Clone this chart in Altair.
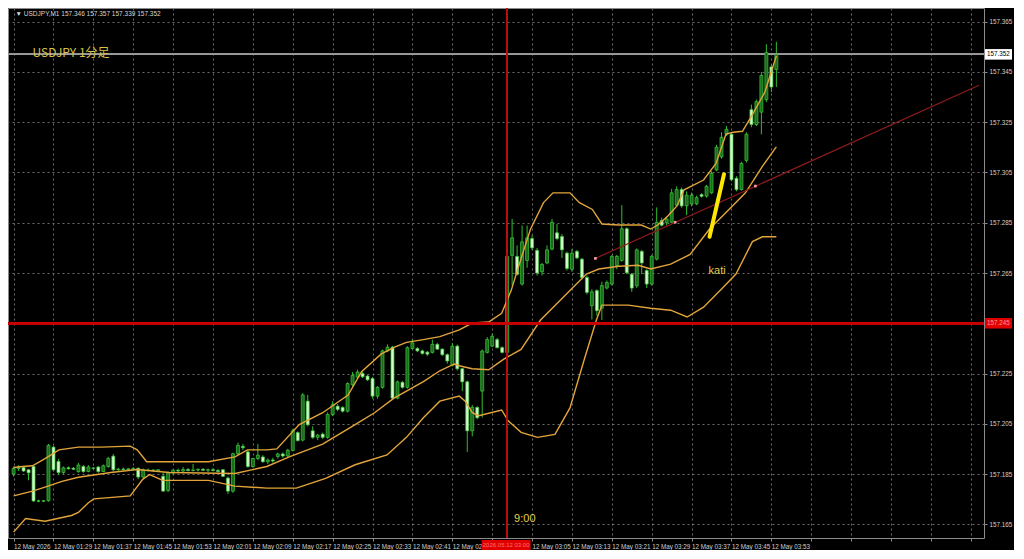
import altair as alt
import pandas as pd

# ---------------- data (1-minute bars, minutes after 00:00 server time) ----------------
minutes = list(range(81, 235))  # 01:21 .. 03:54

opens = [157.1850, 157.1872, 157.1876, 157.1867, 157.1880, 157.1743, 157.1742, 157.1744, 157.1957, 157.1900,
         157.1856, 157.1875, 157.1873, 157.1860, 157.1880, 157.1860, 157.1874, 157.1878, 157.1860, 157.1880,
         157.1921, 157.1867, 157.1870, 157.1868, 157.1871, 157.1873, 157.1838, 157.1866, 157.1864, 157.1862,
         157.1841, 157.1785, 157.1854, 157.1865, 157.1862, 157.1868, 157.1864, 157.1866, 157.1869, 157.1865,
         157.1867, 157.1864, 157.1867, 157.1834, 157.1782, 157.1931, 157.1960, 157.1938, 157.1880, 157.1912,
         157.1918, 157.1899, 157.1906, 157.1920, 157.1930, 157.1922, 157.1944, 157.2015, 157.1985, 157.2140,
         157.2022, 157.1996, 157.2009, 157.1996, 157.2087, 157.2120, 157.2115, 157.2100, 157.2205, 157.2235,
         157.2250, 157.2240, 157.2230, 157.2160, 157.2195, 157.2340, 157.2355, 157.2152, 157.2215, 157.2195,
         157.2350, 157.2350, 157.2340, 157.2335, 157.2334, 157.2366, 157.2347, 157.2325, 157.2282, 157.2359,
         157.2269, 157.2217, 157.2022, 157.2115, 157.2180, 157.2334, 157.2359, 157.2385, 157.2353, 157.2334,
         157.2720, 157.2716, 157.2606, 157.2700, 157.2787, 157.2740, 157.2655, 157.2690, 157.2745, 157.2810,
         157.2795, 157.2729, 157.2665, 157.2736, 157.2705, 157.2632, 157.2520, 157.2580, 157.2510, 157.2590,
         157.2606, 157.2680, 157.2700, 157.2826, 157.2645, 157.2599, 157.2736, 157.2660, 157.2606, 157.2705,
         157.2859, 157.2850, 157.2852, 157.2920, 157.2982, 157.2917, 157.2925, 157.2925, 157.2962, 157.2956,
         157.2969, 157.3060, 157.3112, 157.3202, 157.3202, 157.3027, 157.2982, 157.3098, 157.3300, 157.3241,
         157.3290, 157.3340, 157.3470, 157.3460]

highs = [157.1880, 157.1885, 157.1880, 157.1870, 157.1885, 157.1748, 157.1746, 157.1970, 157.1962, 157.1910,
         157.1880, 157.1880, 157.1878, 157.1895, 157.1886, 157.1885, 157.1878, 157.1882, 157.1888, 157.1918,
         157.1930, 157.1875, 157.1876, 157.1874, 157.1878, 157.1876, 157.1872, 157.1872, 157.1870, 157.1870,
         157.1855, 157.1860, 157.1870, 157.1872, 157.1878, 157.1874, 157.1890, 157.1872, 157.1874, 157.1872,
         157.1874, 157.1870, 157.1870, 157.1840, 157.1935, 157.1975, 157.1970, 157.1945, 157.1915, 157.1970,
         157.1925, 157.1912, 157.1915, 157.1935, 157.1936, 157.1950, 157.2030, 157.2020, 157.2172, 157.2165,
         157.2040, 157.2010, 157.2015, 157.2095, 157.2140, 157.2128, 157.2120, 157.2215, 157.2256, 157.2265,
         157.2258, 157.2245, 157.2236, 157.2200, 157.2345, 157.2366, 157.2360, 157.2222, 157.2220, 157.2358,
         157.2385, 157.2355, 157.2345, 157.2340, 157.2385, 157.2372, 157.2350, 157.2330, 157.2372, 157.2365,
         157.2272, 157.2222, 157.2125, 157.2120, 157.2345, 157.2395, 157.2410, 157.2392, 157.2358, 157.2725,
         157.2865, 157.2760, 157.2839, 157.2839, 157.2800, 157.2750, 157.2690, 157.2760, 157.2865, 157.2845,
         157.2805, 157.2735, 157.2745, 157.2742, 157.2710, 157.2640, 157.2585, 157.2585, 157.2615, 157.2620,
         157.2722, 157.2722, 157.2920, 157.2832, 157.2650, 157.2748, 157.2742, 157.2665, 157.2722, 157.2911,
         157.2870, 157.2875, 157.2985, 157.2995, 157.2990, 157.2975, 157.2970, 157.2958, 157.2968, 157.3000,
         157.3055, 157.3160, 157.3210, 157.3235, 157.3210, 157.3035, 157.3092, 157.3210, 157.3320, 157.3340,
         157.3450, 157.3560, 157.3480, 157.3570]

lows = [157.1840, 157.1862, 157.1858, 157.1825, 157.1739, 157.1738, 157.1738, 157.1740, 157.1860, 157.1847,
        157.1850, 157.1868, 157.1866, 157.1855, 157.1855, 157.1857, 157.1868, 157.1855, 157.1858, 157.1875,
        157.1860, 157.1862, 157.1864, 157.1862, 157.1866, 157.1830, 157.1834, 157.1860, 157.1858, 157.1858,
        157.1780, 157.1778, 157.1850, 157.1858, 157.1858, 157.1860, 157.1860, 157.1860, 157.1862, 157.1858,
        157.1860, 157.1856, 157.1838, 157.1770, 157.1775, 157.1925, 157.1945, 157.1875, 157.1875, 157.1905,
        157.1895, 157.1890, 157.1895, 157.1912, 157.1915, 157.1918, 157.1940, 157.1980, 157.1980, 157.2040,
        157.1990, 157.1985, 157.1990, 157.1990, 157.2080, 157.2100, 157.2095, 157.2095, 157.2200, 157.2230,
        157.2232, 157.2220, 157.2150, 157.2150, 157.2190, 157.2335, 157.2145, 157.2148, 157.2190, 157.2190,
        157.2345, 157.2335, 157.2325, 157.2320, 157.2330, 157.2345, 157.2320, 157.2290, 157.2278, 157.2262,
        157.2180, 157.1938, 157.2000, 157.2068, 157.2075, 157.2330, 157.2355, 157.2350, 157.2330, 157.2325,
        157.2600, 157.2640, 157.2600, 157.2671, 157.2740, 157.2640, 157.2640, 157.2685, 157.2740, 157.2780,
        157.2710, 157.2660, 157.2655, 157.2705, 157.2625, 157.2565, 157.2465, 157.2480, 157.2463, 157.2585,
        157.2600, 157.2665, 157.2695, 157.2645, 157.2575, 157.2590, 157.2645, 157.2590, 157.2600, 157.2700,
        157.2835, 157.2840, 157.2848, 157.2915, 157.2910, 157.2880, 157.2915, 157.2920, 157.2950, 157.2950,
        157.2965, 157.3055, 157.3105, 157.3195, 157.3015, 157.2975, 157.2978, 157.3090, 157.3230, 157.3235,
        157.3202, 157.3330, 157.3370, 157.3390]

closes = [157.1872, 157.1878, 157.1862, 157.1855, 157.1743, 157.1742, 157.1744, 157.1964, 157.1867, 157.1856,
          157.1875, 157.1871, 157.1869, 157.1886, 157.1860, 157.1878, 157.1873, 157.1860, 157.1883, 157.1912,
          157.1867, 157.1870, 157.1868, 157.1871, 157.1869, 157.1838, 157.1866, 157.1864, 157.1866, 157.1867,
          157.1782, 157.1854, 157.1865, 157.1862, 157.1868, 157.1864, 157.1866, 157.1869, 157.1865, 157.1867,
          157.1864, 157.1860, 157.1841, 157.1782, 157.1931, 157.1964, 157.1955, 157.1880, 157.1912, 157.1925,
          157.1899, 157.1906, 157.1902, 157.1930, 157.1922, 157.1945, 157.2022, 157.1983, 157.2165, 157.2046,
          157.1996, 157.2005, 157.1996, 157.2087, 157.2126, 157.2107, 157.2100, 157.2210, 157.2243, 157.2256,
          157.2237, 157.2225, 157.2160, 157.2195, 157.2340, 157.2355, 157.2152, 157.2217, 157.2195, 157.2353,
          157.2372, 157.2340, 157.2330, 157.2327, 157.2366, 157.2347, 157.2325, 157.2300, 157.2359, 157.2269,
          157.2217, 157.2022, 157.2115, 157.2074, 157.2340, 157.2385, 157.2398, 157.2353, 157.2334, 157.2716,
          157.2790, 157.2645, 157.2774, 157.2790, 157.2750, 157.2650, 157.2684, 157.2742, 157.2852, 157.2787,
          157.2742, 157.2668, 157.2729, 157.2710, 157.2632, 157.2573, 157.2575, 157.2500, 157.2600, 157.2612,
          157.2716, 157.2716, 157.2826, 157.2651, 157.2590, 157.2742, 157.2690, 157.2606, 157.2716, 157.2852,
          157.2840, 157.2865, 157.2969, 157.2982, 157.2917, 157.2960, 157.2960, 157.2950, 157.2955, 157.2995,
          157.3047, 157.3151, 157.3190, 157.3222, 157.3021, 157.2982, 157.3086, 157.3202, 157.3241, 157.3332,
          157.3436, 157.3527, 157.3390, 157.3520]

# Bollinger bands (read as vertices off the picture)
upper_t = [81, 82.8, 84.8, 87.3, 90.1, 94.0, 98.5, 104.4, 105.8, 107.7, 120.1, 125.4, 127.9, 131.8, 133.8,
           138.3, 143.0, 148.1, 150.8, 154.7, 157.3, 159.8, 163.2, 166.5, 170.4, 173.0, 176.3, 178.9, 180.8,
           182.8, 184.7, 187.3, 189.2, 192.6, 194.5, 197.1, 199.0, 202.4, 206.9, 208.8, 210.2, 212.2, 214.1,
           215.5, 219.4, 221.9, 223.9, 225.3, 227.2, 229.2, 231.7, 234]
upper_p = [157.1876, 157.1880, 157.1883, 157.1911, 157.1946, 157.1957, 157.1957, 157.1961, 157.1946, 157.1899,
           157.1899, 157.1918, 157.1946, 157.1946, 157.1950, 157.2047, 157.2094, 157.2164, 157.2257, 157.2327,
           157.2354, 157.2374, 157.2385, 157.2397, 157.2424, 157.2451, 157.2455, 157.2490, 157.2580, 157.2708,
           157.2825, 157.2930, 157.2969, 157.2969, 157.2930, 157.2903, 157.2845, 157.2841, 157.2841, 157.2825,
           157.2841, 157.2876, 157.2918, 157.2981, 157.3020, 157.3086, 157.3203, 157.3210, 157.3214, 157.3280,
           157.3370, 157.3514]

middle_t = [81, 84.8, 87.3, 90.7, 94.0, 100.5, 105.8, 112.2, 125.4, 131.8, 136.3, 143.0, 149.5, 153.4, 157.3,
            163.2, 166.5, 169.4, 170.6, 173.0, 176.3, 179.4, 182.8, 186.7, 190.0, 193.2, 195.9, 198.4, 202.4,
            206.3, 208.8, 212.8, 216.7, 220.6, 224.5, 227.8, 231.2, 234]
middle_p = [157.1763, 157.1782, 157.1798, 157.1821, 157.1837, 157.1856, 157.1868, 157.1856, 157.1852, 157.1880,
            157.1918, 157.1969, 157.2047, 157.2094, 157.2152, 157.2218, 157.2261, 157.2288, 157.2280, 157.2269,
            157.2265, 157.2308, 157.2346, 157.2463, 157.2529, 157.2592, 157.2646, 157.2666, 157.2677, 157.2681,
            157.2666, 157.2685, 157.2724, 157.2825, 157.2903, 157.2969, 157.3074, 157.3152]

lower_t = [81, 83.4, 87.3, 92.6, 94.0, 96.0, 97.1, 104.4, 106.9, 108.3, 110.9, 120.1, 125.4, 131.8, 137.7,
           143.6, 149.5, 155.9, 159.8, 163.2, 166.5, 170.4, 171.6, 173.0, 174.3, 178.9, 180.2, 182.8, 186.1,
           189.6, 192.6, 195.5, 197.9, 199.0, 204.3, 208.8, 212.8, 216.1, 219.4, 223.3, 225.9, 229.2, 231.2, 234]
lower_p = [157.1619, 157.1673, 157.1662, 157.1685, 157.1697, 157.1736, 157.1751, 157.1763, 157.1829, 157.1848,
           157.1825, 157.1825, 157.1802, 157.1794, 157.1794, 157.1833, 157.1887, 157.1926, 157.1996, 157.2074,
           157.2140, 157.2160, 157.2140, 157.2094, 157.2082, 157.2105, 157.2062, 157.2016, 157.1996, 157.2008,
           157.2113, 157.2308, 157.2463, 157.2522, 157.2522, 157.2510, 157.2502, 157.2475, 157.2514, 157.2592,
           157.2646, 157.2775, 157.2794, 157.2794]

# drawn objects
trend_t = [197.7, 274.65]
trend_p = [157.2708, 157.3397]
trend_dot_t = [197.7, 213.7, 229.8]
trend_dot_p = [157.2708, 157.2852, 157.2996]
stroke_t = [220.6, 223.5]          # hand-drawn yellow stroke
stroke_p = [157.2794, 157.3043]
red_level = 157.245
last_price = 157.352
vline_minute = 180                  # 03:00 server = 9:00 JST

price_ticks = [round(157.165 + 0.01 * k, 3) for k in range(21)]
time_ticks = list(range(81, 275, 4))

header = "\u25bc USDJPY,M1  157.346 157.357 157.339 157.352"
title_txt = "USDJPY 1分足"

# ---------------- chart ----------------
W, H = 976, 530
X_DOM = [80.882, 274.65]
Y_DOM = [157.15955, 157.37045]
LABEL_C = "#cfcfcf"
GRID_C = "#6c6c6c"
BAND_C = "#e3a53b"
AX_FONT = "Liberation Sans"
AX_SIZE = 6.3

candles = pd.DataFrame({"t": minutes, "o": opens, "h": highs, "l": lows, "c": closes})
candles["dir"] = ["up" if c >= o else "down" for o, c in zip(opens, closes)]

xs = alt.Scale(domain=X_DOM, nice=False, zero=False)
ys = alt.Scale(domain=Y_DOM, nice=False, zero=False)

# 02:49 is cut short by the red crosshair time box, 02:57 is hidden under it
label_expr = (
    "(datum.value - 81) % 8 != 0 || datum.value > 233 || datum.value == 177 ? '' : "
    "(datum.value == 81 ? '12 May 2026' : (datum.value == 169 ? '12 May 02:' : "
    "'12 May ' + pad('' + floor(datum.value / 60), 2, '0', 'left')"
    " + ':' + pad('' + (datum.value % 60), 2, '0', 'left')))"
)
x_axis = alt.Axis(values=time_ticks, labelExpr=label_expr, labelAlign="left", labelFontSize=AX_SIZE,
                  labelFont=AX_FONT, labelColor=LABEL_C, labelPadding=2, labelOverlap=False,
                  labelFlush=False, labelBound=False, tickSize=3, tickColor="#8a8a8a", domain=False,
                  grid=True, gridColor=GRID_C, gridDash=[2, 3], gridWidth=1, title=None)
# the 157.245 label sits under the red price box, as in the terminal
y_axis = alt.Axis(orient="right", values=price_ticks, format=".3f", labelFontSize=AX_SIZE,
                  labelExpr="abs(datum.value - 157.245) < 0.0005 ? '' : format(datum.value, '.3f')",
                  labelFont=AX_FONT, labelColor=LABEL_C, labelPadding=2, labelOverlap=False,
                  labelFlush=False, tickSize=3, tickColor="#8a8a8a", domain=False, grid=True,
                  gridColor=GRID_C, gridDash=[2, 3], gridWidth=1, title=None)

X = alt.X("t:Q", scale=xs, axis=x_axis)

base = alt.Chart(candles)

price_line = base.mark_rule(color="#9c9c9c", strokeWidth=1).encode(
    y=alt.Y(datum=last_price, type="quantitative", scale=ys, axis=y_axis))

wicks = base.mark_rule(color="#2fbf2f", strokeWidth=1).encode(
    x=X, y=alt.Y("l:Q", scale=ys), y2="h:Q")
bodies = base.mark_bar(size=3, stroke="#3ccc3c", strokeWidth=0.7).encode(
    x=alt.X("t:Q", scale=xs), y=alt.Y("o:Q", scale=ys), y2="c:Q",
    color=alt.Color("dir:N", scale=alt.Scale(domain=["up", "down"], range=["#1c6a1c", "#d4f7cc"]),
                    legend=None))


def band(ts, ps):
    return alt.Chart(pd.DataFrame({"t": ts, "p": ps})).mark_line(
        color=BAND_C, strokeWidth=1.4, clip=True).encode(x=alt.X("t:Q", scale=xs), y=alt.Y("p:Q", scale=ys))


up_band = band(upper_t, upper_p)
mid_band = band(middle_t, middle_p)
low_band = band(lower_t, lower_p)

trend = alt.Chart(pd.DataFrame({"t": trend_t, "p": trend_p})).mark_line(
    color="#8e1b1b", strokeWidth=1.2, clip=True).encode(x=alt.X("t:Q", scale=xs), y=alt.Y("p:Q", scale=ys))
trend_dots = alt.Chart(pd.DataFrame({"t": trend_dot_t, "p": trend_dot_p})).mark_square(
    size=7, color="#ff9c9c", opacity=1).encode(x=alt.X("t:Q", scale=xs), y=alt.Y("p:Q", scale=ys))

red_h = base.mark_rule(color="#c80000", strokeWidth=2).encode(
    y=alt.Y(datum=red_level, type="quantitative", scale=ys))
red_v = base.mark_rule(color="#b81010", strokeWidth=1).encode(
    x=alt.X(datum=vline_minute, type="quantitative", scale=xs))

yellow = alt.Chart(pd.DataFrame({"t": stroke_t, "p": stroke_p})).mark_line(
    color="#ffe600", strokeWidth=4, strokeCap="round").encode(
    x=alt.X("t:Q", scale=xs), y=alt.Y("p:Q", scale=ys))

notes = pd.DataFrame({
    "t": [84.8, 181.4, 220.4, 81.4],
    "p": [157.3525, 157.1673, 157.2658, 157.3681],
    "txt": [title_txt, "9:00", "kati", header],
    "size": [12, 11, 11, 6.5],
    "col": ["#d8c04a", "#e8cf48", "#e2c94a", "#d6d6d6"],
    "font": ["Noto Sans CJK JP", "Liberation Sans", "Liberation Sans", "Liberation Sans"],
})
texts = []
for _, r in notes.iterrows():
    texts.append(alt.Chart(pd.DataFrame([r])).mark_text(
        align="left", baseline="middle", fontSize=float(r["size"]), color=r["col"], font=r["font"]).encode(
        x=alt.X("t:Q", scale=xs), y=alt.Y("p:Q", scale=ys), text="txt:N"))


# price boxes on the right axis
def price_box(value, fill, txtcol):
    d = pd.DataFrame({"p": [value], "p0": [value - 0.0021], "p1": [value + 0.0021],
                      "lab": [f"{value:.3f}"]})
    box = alt.Chart(d).mark_rect(color=fill).encode(
        x=alt.value(W + 1), x2=alt.value(W + 28), y=alt.Y("p0:Q", scale=ys), y2="p1:Q")
    lab = alt.Chart(d).mark_text(align="left", baseline="middle", fontSize=AX_SIZE, color=txtcol,
                                 font=AX_FONT).encode(
        x=alt.value(W + 3), y=alt.Y("p:Q", scale=ys), text="lab:N")
    return box + lab


box_last = price_box(last_price, "#ffffff", "#000000")
box_red = price_box(red_level, "#e00000", "#ff9a9a")

# time box under the vertical line
tb = pd.DataFrame({"t0": [174.9], "t1": [184.7], "t": [179.8], "lab": ["2026.05.12 03:00"]})
time_box = alt.Chart(tb).mark_rect(color="#e00000").encode(
    x=alt.X("t0:Q", scale=xs), x2="t1:Q", y=alt.value(H + 2), y2=alt.value(H + 12))
time_lab = alt.Chart(tb).mark_text(fontSize=6, color="#ff7070", font=AX_FONT).encode(
    x=alt.X("t:Q", scale=xs), y=alt.value(H + 7), text="lab:N")

chart = alt.layer(
    wicks, price_line, bodies, up_band, mid_band, low_band, trend, trend_dots, red_h, red_v,
    yellow, *texts, box_last, box_red, time_box, time_lab
).properties(
    width=W, height=H, background="#000000",
    padding={"left": 0, "top": 0, "right": 30, "bottom": 12},
    autosize=alt.AutoSizeParams(type="none"),
).configure_view(stroke="#8c8c8c", strokeWidth=1)

chart.save("out.html", embed_options={"renderer": "svg", "actions": False})
